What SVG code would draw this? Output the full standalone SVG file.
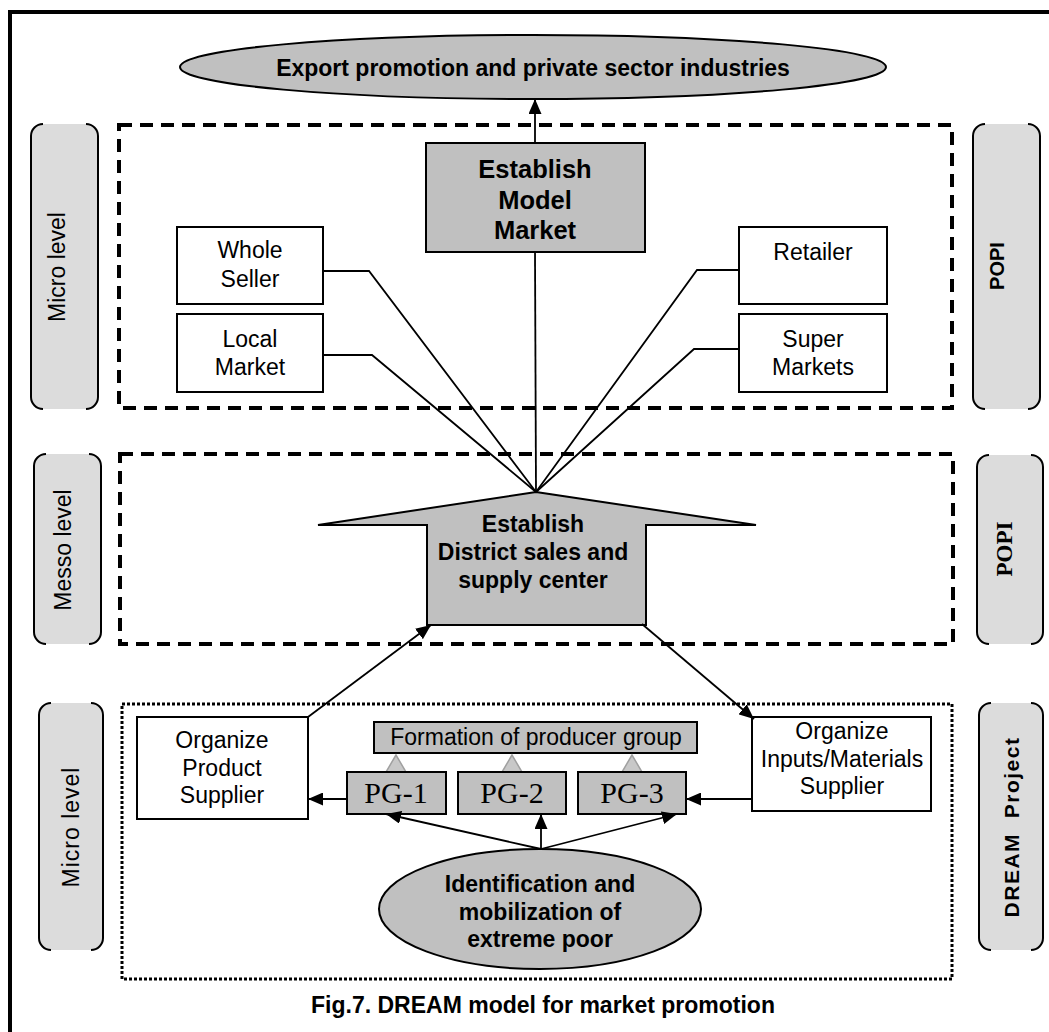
<svg xmlns="http://www.w3.org/2000/svg" width="1049" height="1032" viewBox="0 0 1049 1032">
<style>
  .t{font-family:"Liberation Sans",Arial,sans-serif;font-size:23px;fill:#000;text-anchor:middle}
  .b{font-family:"Liberation Sans",Arial,sans-serif;font-weight:bold;font-size:23px;fill:#000;text-anchor:middle}
  .s{font-family:"Liberation Serif","Times New Roman",serif;fill:#000;text-anchor:middle}
  .box{fill:#fff;stroke:#000;stroke-width:2}
  .gbox{fill:#c0c0c0;stroke:#000;stroke-width:2}
  .pill{fill:#dcdcdc;stroke:none}
  .br{fill:none;stroke:#000;stroke-width:2}
  .dash{fill:none;stroke:#000;stroke-width:4;stroke-dasharray:13 8}
  .dot{fill:none;stroke:#000;stroke-width:3;stroke-dasharray:3 2}
  .ln{fill:none;stroke:#000;stroke-width:1.8}
  .tri{fill:#c8c8c8;stroke:#a0a0a0;stroke-width:1.5}
</style>
<defs>
  <marker id="ah" markerWidth="15" markerHeight="13" refX="15" refY="6.5" orient="auto" markerUnits="userSpaceOnUse">
    <path d="M0,0 L15,6.5 L0,13 z" fill="#000"/>
  </marker>
</defs>
<rect x="0" y="0" width="1049" height="1032" fill="#fff"/>
<rect x="10" y="12" width="1100" height="1100" fill="none" stroke="#000" stroke-width="4"/>

<g id="frames">
  <rect class="dash" x="119" y="125" width="833" height="283"/>
  <rect class="dash" x="120" y="454" width="833" height="190"/>
  <rect class="dot" x="122" y="704" width="830" height="275"/>
</g>

<g id="label-micro-top">
  <rect class="pill" x="31" y="124" width="67" height="285" rx="12"/>
  <path class="br" d="M43,124 A12,12 0 0 0 31,136 V397 A12,12 0 0 0 43,409"/>
  <path class="br" d="M86,124 A12,12 0 0 1 98,136 V397 A12,12 0 0 1 86,409"/>
  <text class="t" transform="translate(65,267) rotate(-90)">Micro level</text>
</g>
<g id="label-popi-top">
  <rect class="pill" x="973" y="124" width="67" height="285" rx="12"/>
  <path class="br" d="M985,124 A12,12 0 0 0 973,136 V397 A12,12 0 0 0 985,409"/>
  <path class="br" d="M1028,124 A12,12 0 0 1 1040,136 V397 A12,12 0 0 1 1028,409"/>
  <text class="b" style="font-size:20px" transform="translate(1004,266) rotate(-90)">POPI</text>
</g>
<g id="label-messo">
  <rect class="pill" x="34" y="454" width="67" height="190" rx="12"/>
  <path class="br" d="M46,454 A12,12 0 0 0 34,466 V632 A12,12 0 0 0 46,644"/>
  <path class="br" d="M89,454 A12,12 0 0 1 101,466 V632 A12,12 0 0 1 89,644"/>
  <text class="t" transform="translate(71,550) rotate(-90)">Messo level</text>
</g>
<g id="label-popi-mid">
  <rect class="pill" x="977" y="455" width="66" height="189" rx="12"/>
  <path class="br" d="M989,455 A12,12 0 0 0 977,467 V632 A12,12 0 0 0 989,644"/>
  <path class="br" d="M1031,455 A12,12 0 0 1 1043,467 V632 A12,12 0 0 1 1031,644"/>
  <text class="s" style="font-size:23px;font-weight:bold" transform="translate(1012,549) rotate(-90)">POPI</text>
</g>
<g id="label-micro-bottom">
  <rect class="pill" x="39" y="703" width="64" height="247" rx="12"/>
  <path class="br" d="M51,703 A12,12 0 0 0 39,715 V938 A12,12 0 0 0 51,950"/>
  <path class="br" d="M91,703 A12,12 0 0 1 103,715 V938 A12,12 0 0 1 91,950"/>
  <text class="t" style="letter-spacing:1px" transform="translate(79,827) rotate(-90)">Micro level</text>
</g>
<g id="label-dream">
  <rect class="pill" x="979" y="703" width="64" height="247" rx="12"/>
  <path class="br" d="M991,703 A12,12 0 0 0 979,715 V938 A12,12 0 0 0 991,950"/>
  <path class="br" d="M1031,703 A12,12 0 0 1 1043,715 V938 A12,12 0 0 1 1031,950"/>
  <text class="b" style="font-size:21px;letter-spacing:1.5px;white-space:pre" transform="translate(1019,827) rotate(-90)">DREAM  Project</text>
</g>

<g id="export">
  <ellipse cx="533" cy="67" rx="353" ry="32" fill="#c0c0c0" stroke="#000" stroke-width="2"/>
  <text class="b" x="533" y="76">Export promotion and private sector industries</text>
</g>

<g id="model-market">
  <rect class="gbox" x="426" y="143" width="219" height="109"/>
  <text class="b" style="font-size:25.5px" x="535" y="178">Establish</text>
  <text class="b" style="font-size:25.5px" x="535" y="209">Model</text>
  <text class="b" style="font-size:25.5px" x="535" y="239">Market</text>
</g>

<g id="whole-seller">
  <rect class="box" x="177" y="227" width="146" height="77"/>
  <text class="t" x="250" y="258">Whole</text>
  <text class="t" x="250" y="287">Seller</text>
</g>
<g id="local-market">
  <rect class="box" x="177" y="314" width="146" height="78"/>
  <text class="t" x="250" y="347">Local</text>
  <text class="t" x="250" y="375">Market</text>
</g>
<g id="retailer">
  <rect class="box" x="739" y="227" width="148" height="77"/>
  <text class="t" x="813" y="260">Retailer</text>
</g>
<g id="super-markets">
  <rect class="box" x="739" y="314" width="148" height="78"/>
  <text class="t" x="813" y="347">Super</text>
  <text class="t" x="813" y="375">Markets</text>
</g>

<g id="district-center">
  <polygon points="536,492 756,525 646,525 646,625 427,625 427,525 318,525" fill="#c0c0c0" stroke="#000" stroke-width="2" stroke-linejoin="miter"/>
  <text class="b" x="533" y="532">Establish</text>
  <text class="b" x="533" y="560">District sales and</text>
  <text class="b" x="533" y="588">supply center</text>
</g>

<g id="product-supplier">
  <rect class="box" x="137" y="717" width="171" height="102"/>
  <text class="t" x="222" y="748">Organize</text>
  <text class="t" x="222" y="776">Product</text>
  <text class="t" x="222" y="803">Supplier</text>
</g>
<g id="inputs-supplier">
  <rect class="box" x="752" y="717" width="179" height="94"/>
  <text class="t" x="842" y="739">Organize</text>
  <text class="t" x="842" y="767">Inputs/Materials</text>
  <text class="t" x="842" y="794">Supplier</text>
</g>
<g id="producer-group">
  <rect class="gbox" x="374" y="722" width="323" height="31"/>
  <text class="t" x="536" y="745">Formation of producer group</text>
</g>
<g id="pg1">
  <polygon class="tri" points="396,755 386,772 406,772"/>
  <rect class="gbox" x="347" y="772" width="99" height="42"/>
  <text class="s" style="font-size:30px" x="396" y="803">PG-1</text>
</g>
<g id="pg2">
  <polygon class="tri" points="512,755 502,772 522,772"/>
  <rect class="gbox" x="458" y="772" width="108" height="42"/>
  <text class="s" style="font-size:30px" x="512" y="803">PG-2</text>
</g>
<g id="pg3">
  <polygon class="tri" points="632,755 622,772 642,772"/>
  <rect class="gbox" x="578" y="772" width="108" height="42"/>
  <text class="s" style="font-size:30px" x="632" y="803">PG-3</text>
</g>
<g id="extreme-poor">
  <ellipse cx="540" cy="909" rx="161" ry="60" fill="#c0c0c0" stroke="#000" stroke-width="2"/>
  <text class="b" x="540" y="892">Identification and</text>
  <text class="b" x="540" y="920">mobilization of</text>
  <text class="b" x="540" y="947">extreme poor</text>
</g>

<g id="connectors">
  <line class="ln" x1="535" y1="143" x2="535" y2="99" marker-end="url(#ah)"/>
  <line class="ln" x1="535" y1="252" x2="536" y2="492"/>
  <polyline class="ln" points="323,271 369,271 536,492"/>
  <polyline class="ln" points="323,355 372,355 536,492"/>
  <polyline class="ln" points="739,270 697,270 536,492"/>
  <polyline class="ln" points="739,349 694,349 536,492"/>
  <line class="ln" x1="308" y1="717" x2="431" y2="625" marker-end="url(#ah)"/>
  <line class="ln" x1="642" y1="624" x2="754" y2="719" marker-end="url(#ah)"/>
  <line class="ln" x1="347" y1="799" x2="308" y2="799" marker-end="url(#ah)"/>
  <line class="ln" x1="752" y1="799" x2="686" y2="799" marker-end="url(#ah)"/>
  <line class="ln" x1="541" y1="849" x2="386" y2="814" marker-end="url(#ah)"/>
  <line class="ln" x1="541" y1="849" x2="541" y2="814" marker-end="url(#ah)"/>
  <line class="ln" x1="541" y1="849" x2="677" y2="814" marker-end="url(#ah)"/>
</g>

<text class="b" x="543" y="1013">Fig.7. DREAM model for market promotion</text>
</svg>
